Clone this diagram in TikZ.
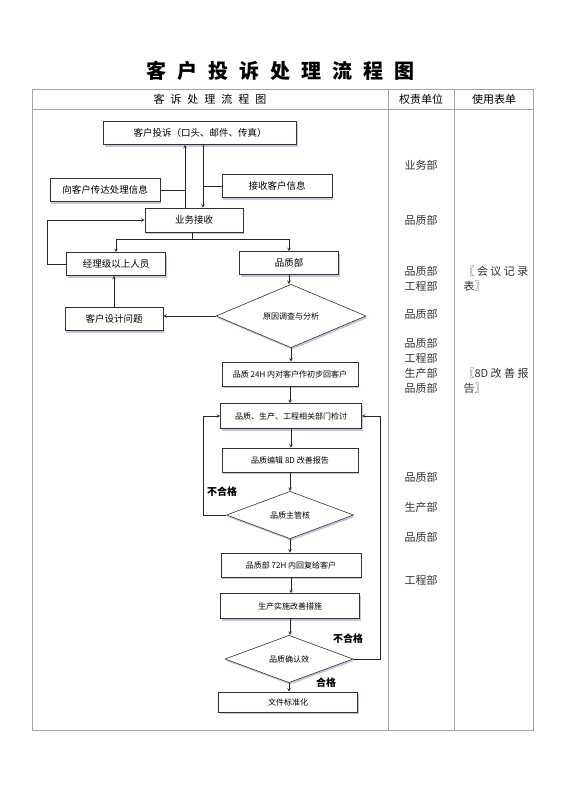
\documentclass[tikz,border=0pt]{standalone}
\usepackage{fontspec}
\setmainfont{Noto Sans CJK SC}
\usetikzlibrary{shapes.geometric,shadows}
\newcommand{\tgap}{\hspace{11pt}}
\newcommand{\hgap}{\hspace{6pt}}
\begin{document}
\begin{tikzpicture}[
  x=1pt, y=-1pt,
  box/.style={rectangle, draw=black!80, fill=white, inner sep=0pt, line width=0.6pt,
    drop shadow={shadow xshift=1.2pt, shadow yshift=-2pt, fill=blue!25!gray!45, opacity=0.8}},
  bigbox/.style={box, font=\fontsize{9.5}{11}\selectfont},
  smallbox/.style={box, font=\fontsize{8}{10}\selectfont},
  decide/.style={diamond, draw=black!80, fill=white, inner sep=0pt, line width=0.6pt,
    font=\fontsize{8}{10}\selectfont,
    drop shadow={shadow xshift=1.2pt, shadow yshift=-2pt, fill=blue!25!gray!45, opacity=0.8}},
  arr/.style={->, >=stealth, line width=0.6pt, black!85},
  line/.style={line width=0.6pt, black!85},
  grid/.style={line width=0.7pt, gray!70},
  dept/.style={font=\fontsize{11}{13}\selectfont, text=black!80},
  form/.style={font=\fontsize{11}{13}\selectfont, text=black!80, anchor=west},
  tag/.style={font=\fontsize{10}{12}\selectfont\bfseries},
]
\useasboundingbox (0,0) rectangle (560,792);

% Title and table
\node[font=\fontsize{20}{24}\selectfont\bfseries] (title) at (280,71) {客\tgap 户\tgap 投\tgap 诉\tgap 处\tgap 理\tgap 流\tgap 程\tgap 图};
\draw[grid] (32,89) rectangle (533,730);
\draw[grid] (32,109) -- (533,109);
\draw[grid] (388,89) -- (388,730);
\draw[grid] (454,89) -- (454,730);
\node[font=\fontsize{11}{13}\selectfont] (hflow) at (210,99) {客\hgap 诉\hgap 处\hgap 理\hgap 流\hgap 程\hgap 图};
\node[font=\fontsize{11}{13}\selectfont] (hdept) at (421,99) {权责单位};
\node[font=\fontsize{11}{13}\selectfont] (hform) at (494,99) {使用表单};

% Upper flow
\node[bigbox, minimum width=193pt, minimum height=23pt] (ts) at (200,133) {客户投诉（口头、邮件、传真）};
\node[bigbox, minimum width=110pt, minimum height=23pt] (cd) at (105,190) {向客户传达处理信息};
\node[bigbox, minimum width=110pt, minimum height=23pt] (js) at (277,186) {接收客户信息};
\node[bigbox, minimum width=98pt, minimum height=24pt] (ywjs) at (194,220) {业务接收};
\node[bigbox, minimum width=99pt, minimum height=23pt] (jl) at (116,264) {经理级以上人员};
\node[bigbox, minimum width=99pt, minimum height=23pt] (pz) at (289,263) {品质部};
\node[bigbox, minimum width=98pt, minimum height=23pt] (sj) at (114,319) {客户设计问题};
\node[decide, minimum width=150pt, minimum height=52pt] (yy) at (291,316) {原因调查与分析};

% Lower flow
\node[smallbox, minimum width=136pt, minimum height=24pt] (h24) at (290,374) {品质 24H 内对客户作初步回客户};
\node[smallbox, minimum width=141pt, minimum height=25pt] (jt) at (291,416) {品质、生产、工程相关部门检讨};
\node[smallbox, minimum width=136pt, minimum height=24pt] (bj) at (290,460) {品质编辑 8D 改善报告};
\node[decide, minimum width=127pt, minimum height=46pt] (zg) at (290,515) {品质主管核};
\node[smallbox, minimum width=140pt, minimum height=24pt] (h72) at (291,565) {品质部 72H 内回复给客户};
\node[smallbox, minimum width=139pt, minimum height=25pt] (ss) at (290,606) {生产实施改善措施};
\node[decide, minimum width=128pt, minimum height=46pt] (qr) at (289,659) {品质确认效};
\node[smallbox, minimum width=139pt, minimum height=20pt] (bz) at (288,702) {文件标准化};

% Connectors (upper)
\draw[arr] ([xshift=-9pt]ywjs.north) -- ([xshift=-9pt]ywjs.north |- ts.south);
\draw[arr] ([xshift=9pt]ywjs.north |- ts.south) -- ([xshift=9pt]ywjs.north);
\draw[line] (cd.east) -- ([xshift=-9pt]ywjs.north |- cd.east);
\draw[line] (js.west) -- ([xshift=9pt]ywjs.north |- js.west);
\draw[arr] ([xshift=-2pt]ywjs.south) -- ++(0,7) -| (jl.north);
\draw[arr] ([xshift=-2pt]ywjs.south) -- ++(0,7) -| (pz.north);
\draw[arr] (jl.west) -- ++(-19,0) |- (ywjs.west);
\draw[arr] (sj.north) -- (sj.north |- jl.south);
\draw[arr] (pz.south) -- (pz.south |- yy.north);
\draw[arr] (yy.west) -- (yy.west -| sj.east);

% Connectors (lower)
\draw[arr] (yy.south) -- (yy.south |- h24.north);
\draw[arr] (h24.south) -- (h24.south |- jt.north);
\draw[arr] (jt.south) -- (jt.south |- bj.north);
\draw[arr] (bj.south) -- (zg.north);
\draw[arr] (zg.south) -- (zg.south |- h72.north);
\draw[arr] (h72.south) -- (h72.south |- ss.north);
\draw[arr] (ss.south) -- (ss.south |- qr.north);
\draw[arr] (qr.south) -- (qr.south |- bz.north);
\draw[arr] (zg.west) -- ++(-23,0) |- (jt.west);
\draw[arr] (qr.east) -- ++(27,0) |- (jt.east);

% Decision labels
\node[tag] (ng1) at (222,492) {不合格};
\node[tag] (ng2) at (348,639) {不合格};
\node[tag] (ok) at (326,683) {合格};

% Responsible departments
\node[dept] (d1) at (421,165) {业务部};
\node[dept] (d2) at (421,220) {品质部};
\node[dept] (d3) at (421,271) {品质部};
\node[dept] (d4) at (421,286) {工程部};
\node[dept] (d5) at (421,314) {品质部};
\node[dept] (d6) at (421,343) {品质部};
\node[dept] (d7) at (421,358) {工程部};
\node[dept] (d8) at (421,373) {生产部};
\node[dept] (d9) at (421,388) {品质部};
\node[dept] (d10) at (421,477) {品质部};
\node[dept] (d11) at (421,507) {生产部};
\node[dept] (d12) at (421,537) {品质部};
\node[dept] (d13) at (421,580) {工程部};

% Forms
\node[form] (f1) at (460,271) {〖\ 会\ 议\ 记\ 录};
\node[form] (f2) at (460,286) {表〗};
\node[form] (f3) at (460,373) {〖8D\ 改\ 善\ 报};
\node[form] (f4) at (460,388) {告〗};
\end{tikzpicture}
\end{document}
